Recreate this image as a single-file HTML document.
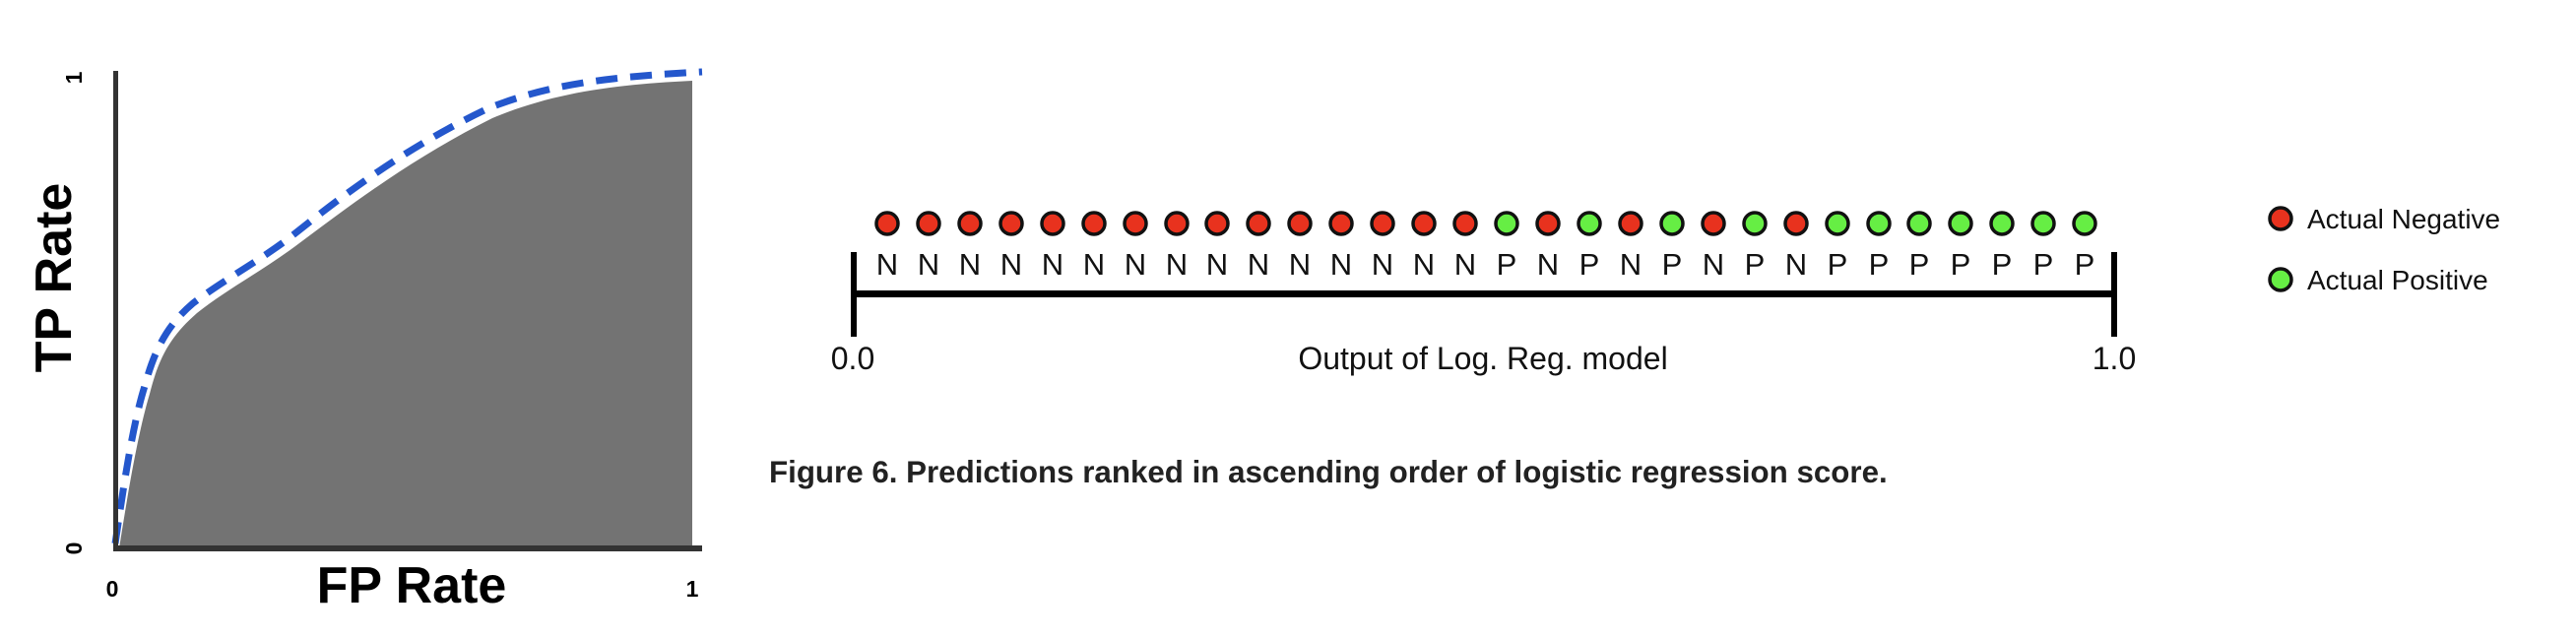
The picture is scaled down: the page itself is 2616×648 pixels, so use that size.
<!DOCTYPE html>
<html><head><meta charset="utf-8"><style>
html,body{margin:0;padding:0;background:#fff;}
svg{display:block;}
</style></head><body>
<svg width="2616" height="648" viewBox="0 0 2616 648" xmlns="http://www.w3.org/2000/svg" font-family="Liberation Sans, Arial, sans-serif">
<rect width="2616" height="648" fill="#fff"/>
<path d="M121,557 C130,500 140,440 152,400 C162,360 175,340 200,318 C230,294 265,276 300,250 C360,205 420,160 500,120 C560,95 620,86 703,82 L703,557 Z" fill="#737373"/>
<path d="M117,552 C126,490 135,430 147,392 C157,355 170,330 196,308 C226,285 262,266 296,240 C356,192 416,148 496,110 C556,86 616,78 713,73" fill="none" stroke="#2457cc" stroke-width="7" stroke-dasharray="22 13"/>
<rect x="115" y="72" width="5" height="488" fill="#333"/>
<rect x="115" y="554" width="598" height="6" fill="#333"/>
<text x="114" y="606" font-size="23" font-weight="bold" text-anchor="middle">0</text>
<text x="703" y="606" font-size="23" font-weight="bold" text-anchor="middle">1</text>
<text transform="translate(83,557) rotate(-90)" font-size="23" font-weight="bold" text-anchor="middle">0</text>
<text transform="translate(83,79) rotate(-90)" font-size="23" font-weight="bold" text-anchor="middle">1</text>
<text x="418" y="612" font-size="52" font-weight="bold" text-anchor="middle">FP Rate</text>
<text transform="translate(72,282) rotate(-90)" font-size="52" font-weight="bold" text-anchor="middle">TP Rate</text>
<rect x="864" y="256" width="6" height="86" fill="#000"/>
<rect x="2144" y="256" width="6" height="86" fill="#000"/>
<rect x="866" y="295" width="1282" height="7" fill="#000"/>
<g font-size="32" text-anchor="middle" fill="#111">
<text x="866" y="375">0.0</text>
<text x="2147" y="375">1.0</text>
<text x="1506" y="375">Output of Log. Reg. model</text>
</g>
<text x="781" y="490" font-size="31.3" font-weight="bold" fill="#222">Figure 6. Predictions ranked in ascending order of logistic regression score.</text>
<circle cx="2316" cy="222" r="11" fill="#e8321e" stroke="#111" stroke-width="3.5"/>
<circle cx="2316" cy="284" r="11" fill="#66ee44" stroke="#111" stroke-width="3.5"/>
<text x="2343" y="232" font-size="28" fill="#111">Actual Negative</text>
<text x="2343" y="294" font-size="28" fill="#111">Actual Positive</text>
<g font-size="31" text-anchor="middle" fill="#111">
<circle cx="901" cy="227" r="11" fill="#e8321e" stroke="#111" stroke-width="3.5"/><text x="901" y="279">N</text>
<circle cx="943" cy="227" r="11" fill="#e8321e" stroke="#111" stroke-width="3.5"/><text x="943" y="279">N</text>
<circle cx="985" cy="227" r="11" fill="#e8321e" stroke="#111" stroke-width="3.5"/><text x="985" y="279">N</text>
<circle cx="1027" cy="227" r="11" fill="#e8321e" stroke="#111" stroke-width="3.5"/><text x="1027" y="279">N</text>
<circle cx="1069" cy="227" r="11" fill="#e8321e" stroke="#111" stroke-width="3.5"/><text x="1069" y="279">N</text>
<circle cx="1111" cy="227" r="11" fill="#e8321e" stroke="#111" stroke-width="3.5"/><text x="1111" y="279">N</text>
<circle cx="1153" cy="227" r="11" fill="#e8321e" stroke="#111" stroke-width="3.5"/><text x="1153" y="279">N</text>
<circle cx="1195" cy="227" r="11" fill="#e8321e" stroke="#111" stroke-width="3.5"/><text x="1195" y="279">N</text>
<circle cx="1236" cy="227" r="11" fill="#e8321e" stroke="#111" stroke-width="3.5"/><text x="1236" y="279">N</text>
<circle cx="1278" cy="227" r="11" fill="#e8321e" stroke="#111" stroke-width="3.5"/><text x="1278" y="279">N</text>
<circle cx="1320" cy="227" r="11" fill="#e8321e" stroke="#111" stroke-width="3.5"/><text x="1320" y="279">N</text>
<circle cx="1362" cy="227" r="11" fill="#e8321e" stroke="#111" stroke-width="3.5"/><text x="1362" y="279">N</text>
<circle cx="1404" cy="227" r="11" fill="#e8321e" stroke="#111" stroke-width="3.5"/><text x="1404" y="279">N</text>
<circle cx="1446" cy="227" r="11" fill="#e8321e" stroke="#111" stroke-width="3.5"/><text x="1446" y="279">N</text>
<circle cx="1488" cy="227" r="11" fill="#e8321e" stroke="#111" stroke-width="3.5"/><text x="1488" y="279">N</text>
<circle cx="1530" cy="227" r="11" fill="#66ee44" stroke="#111" stroke-width="3.5"/><text x="1530" y="279">P</text>
<circle cx="1572" cy="227" r="11" fill="#e8321e" stroke="#111" stroke-width="3.5"/><text x="1572" y="279">N</text>
<circle cx="1614" cy="227" r="11" fill="#66ee44" stroke="#111" stroke-width="3.5"/><text x="1614" y="279">P</text>
<circle cx="1656" cy="227" r="11" fill="#e8321e" stroke="#111" stroke-width="3.5"/><text x="1656" y="279">N</text>
<circle cx="1698" cy="227" r="11" fill="#66ee44" stroke="#111" stroke-width="3.5"/><text x="1698" y="279">P</text>
<circle cx="1740" cy="227" r="11" fill="#e8321e" stroke="#111" stroke-width="3.5"/><text x="1740" y="279">N</text>
<circle cx="1782" cy="227" r="11" fill="#66ee44" stroke="#111" stroke-width="3.5"/><text x="1782" y="279">P</text>
<circle cx="1824" cy="227" r="11" fill="#e8321e" stroke="#111" stroke-width="3.5"/><text x="1824" y="279">N</text>
<circle cx="1866" cy="227" r="11" fill="#66ee44" stroke="#111" stroke-width="3.5"/><text x="1866" y="279">P</text>
<circle cx="1908" cy="227" r="11" fill="#66ee44" stroke="#111" stroke-width="3.5"/><text x="1908" y="279">P</text>
<circle cx="1949" cy="227" r="11" fill="#66ee44" stroke="#111" stroke-width="3.5"/><text x="1949" y="279">P</text>
<circle cx="1991" cy="227" r="11" fill="#66ee44" stroke="#111" stroke-width="3.5"/><text x="1991" y="279">P</text>
<circle cx="2033" cy="227" r="11" fill="#66ee44" stroke="#111" stroke-width="3.5"/><text x="2033" y="279">P</text>
<circle cx="2075" cy="227" r="11" fill="#66ee44" stroke="#111" stroke-width="3.5"/><text x="2075" y="279">P</text>
<circle cx="2117" cy="227" r="11" fill="#66ee44" stroke="#111" stroke-width="3.5"/><text x="2117" y="279">P</text>
</g>
</svg>
</body></html>
